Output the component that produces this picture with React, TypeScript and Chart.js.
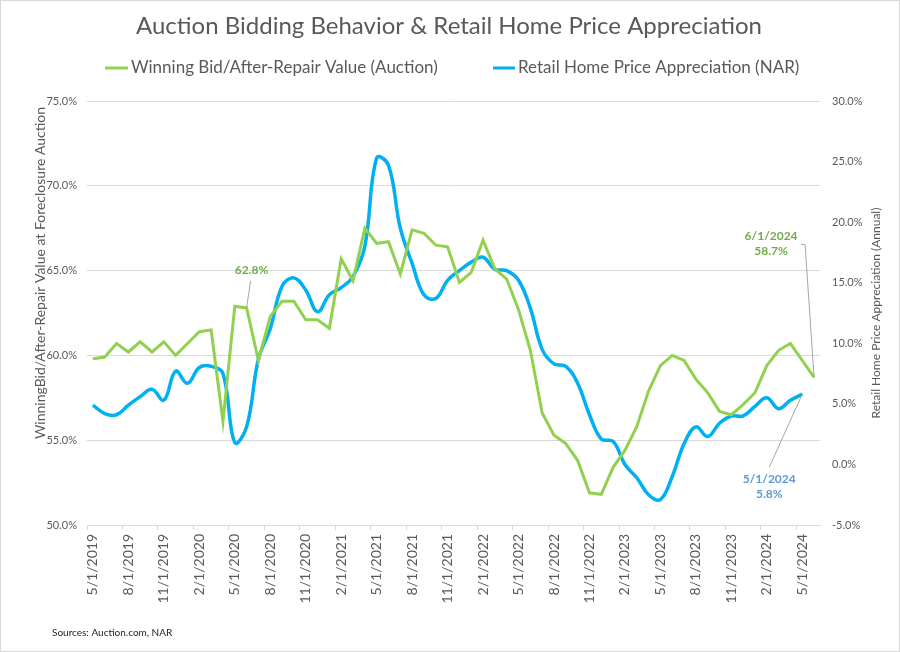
import React, { useEffect, useRef } from 'react';
import { Chart, registerables } from 'chart.js';

Chart.register(...registerables);

const TITLE = 'Auction Bidding Behavior & Retail Home Price Appreciation';
const SERIES_GREEN = 'Winning Bid/After-Repair Value (Auction)';
const SERIES_BLUE = 'Retail Home Price Appreciation (NAR)';
const LEFT_AXIS_TITLE = 'WinningBid/After-Repair Value at Foreclosure Auction';
const RIGHT_AXIS_TITLE = 'Retail Home Price Appreciation (Annual)';
const SOURCE = 'Sources: Auction.com, NAR';

const categories = [
  '5/1/2019', '6/1/2019', '7/1/2019', '8/1/2019', '9/1/2019', '10/1/2019', '11/1/2019', '12/1/2019',
  '1/1/2020', '2/1/2020', '3/1/2020', '4/1/2020', '5/1/2020', '6/1/2020', '7/1/2020', '8/1/2020',
  '9/1/2020', '10/1/2020', '11/1/2020', '12/1/2020', '1/1/2021', '2/1/2021', '3/1/2021', '4/1/2021',
  '5/1/2021', '6/1/2021', '7/1/2021', '8/1/2021', '9/1/2021', '10/1/2021', '11/1/2021', '12/1/2021',
  '1/1/2022', '2/1/2022', '3/1/2022', '4/1/2022', '5/1/2022', '6/1/2022', '7/1/2022', '8/1/2022',
  '9/1/2022', '10/1/2022', '11/1/2022', '12/1/2022', '1/1/2023', '2/1/2023', '3/1/2023', '4/1/2023',
  '5/1/2023', '6/1/2023', '7/1/2023', '8/1/2023', '9/1/2023', '10/1/2023', '11/1/2023', '12/1/2023',
  '1/1/2024', '2/1/2024', '3/1/2024', '4/1/2024', '5/1/2024', '6/1/2024',
];

const winningBidPct = [
  59.8, 59.9, 60.7, 60.2, 60.8, 60.2, 60.8, 60.0, 60.7, 61.4,
  61.5, 56.1, 62.9, 62.8, 59.7, 62.3, 63.2, 63.2, 62.1, 62.1,
  61.6, 65.7, 64.4, 67.5, 66.6, 66.7, 64.8, 67.4, 67.2, 66.5,
  66.4, 64.3, 64.9, 66.8, 65.1, 64.5, 62.7, 60.3, 56.6, 55.3,
  54.8, 53.8, 51.9, 51.8, 53.4, 54.4, 55.8, 57.9, 59.4, 60.0,
  59.7, 58.6, 57.8, 56.7, 56.5, 57.1, 57.8, 59.4, 60.3, 60.7,
  59.7, 58.7,
];

const retailHpaPct = [
  4.9, 4.2, 4.1, 4.9, 5.6, 6.2, 5.3, 7.7, 6.7, 8.0,
  8.1, 7.5, 1.8, 3.1, 8.7, 11.2, 14.7, 15.4, 14.4, 12.6,
  14.0, 14.6, 15.5, 18.0, 25.3, 24.7, 19.5, 16.6, 14.0, 13.7,
  15.2, 16.0, 16.7, 17.1, 16.1, 16.0, 15.2, 12.9, 9.5, 8.3,
  8.1, 6.7, 4.1, 2.1, 1.9, 0.0, -1.1, -2.5, -2.9, -1.0,
  1.7, 3.1, 2.3, 3.4, 4.0, 4.0, 4.8, 5.5, 4.6, 5.3,
  5.8,
];

const leftAxisRange = [50, 75];
const rightAxisRange = [-5, 30];

const GREEN = '#92D050';
const GREEN_TEXT = '#70AD47';
const BLUE = '#00B0F0';
const BLUE_TEXT = '#5B9BD5';
const TEXT = '#595959';
const GRID = '#d9d9d9';
const FONT = 'Lato, "Open Sans", sans-serif';

const overlay = {
  id: 'overlay',
  afterDraw(chart: any) {
    const ctx = chart.ctx as CanvasRenderingContext2D;
    ctx.save();
    // chart border
    ctx.strokeStyle = GRID;
    ctx.lineWidth = 1;
    ctx.strokeRect(0.5, 0.5, chart.width - 1, chart.height - 1);

    // title
    ctx.fillStyle = TEXT;
    ctx.textAlign = 'center';
    ctx.textBaseline = 'middle';
    ctx.font = `24px ${FONT}`;
    ctx.fillText(TITLE, 449, 26);

    // legend
    ctx.font = `17px ${FONT}`;
    ctx.textAlign = 'left';
    ctx.lineWidth = 3;
    ctx.strokeStyle = GREEN;
    ctx.beginPath();
    ctx.moveTo(105, 68);
    ctx.lineTo(128, 68);
    ctx.stroke();
    ctx.fillText(SERIES_GREEN, 131, 68);
    ctx.strokeStyle = BLUE;
    ctx.beginPath();
    ctx.moveTo(493, 68);
    ctx.lineTo(515, 68);
    ctx.stroke();
    ctx.fillText(SERIES_BLUE, 518, 68);

    // axis titles
    ctx.textAlign = 'center';
    ctx.font = `14px ${FONT}`;
    ctx.save();
    ctx.translate(40, 273);
    ctx.rotate(-Math.PI / 2);
    ctx.fillText(LEFT_AXIS_TITLE, 0, 0);
    ctx.restore();
    ctx.font = `12px ${FONT}`;
    ctx.save();
    ctx.translate(876, (chart.chartArea.top + chart.chartArea.bottom) / 2);
    ctx.rotate(-Math.PI / 2);
    ctx.fillText(RIGHT_AXIS_TITLE, 0, 0);
    ctx.restore();

    // source
    ctx.font = `10px ${FONT}`;
    ctx.textAlign = 'left';
    ctx.fillStyle = '#222';
    ctx.fillText(SOURCE, 52, 633);

    // annotations
    const gMeta = chart.getDatasetMeta(0);
    const bMeta = chart.getDatasetMeta(1);
    ctx.lineWidth = 1;
    ctx.strokeStyle = '#a6a6a6';
    ctx.font = `bold 12px ${FONT}`;
    ctx.textAlign = 'center';

    const peakIdx = 13;
    const p1 = gMeta.data[peakIdx];
    ctx.beginPath();
    ctx.moveTo(p1.x + 4, p1.y - 27);
    ctx.lineTo(p1.x, p1.y);
    ctx.stroke();
    ctx.fillStyle = GREEN_TEXT;
    ctx.fillText(winningBidPct[peakIdx].toFixed(1) + '%', p1.x + 5, p1.y - 38);

    const gLast = winningBidPct.length - 1;
    const p2 = gMeta.data[gLast];
    ctx.beginPath();
    ctx.moveTo(p2.x - 13, p2.y - 133);
    ctx.lineTo(p2.x - 9, p2.y - 133);
    ctx.lineTo(p2.x, p2.y);
    ctx.stroke();
    ctx.fillText(categories[gLast], p2.x - 43, p2.y - 141);
    ctx.fillText(winningBidPct[gLast].toFixed(1) + '%', p2.x - 43, p2.y - 126);

    const bLast = retailHpaPct.length - 1;
    const p3 = bMeta.data[bLast];
    ctx.beginPath();
    ctx.moveTo(p3.x - 33, p3.y + 73);
    ctx.lineTo(p3.x, p3.y);
    ctx.stroke();
    ctx.fillStyle = BLUE_TEXT;
    ctx.fillText(categories[bLast], p3.x - 33, p3.y + 85);
    ctx.fillText(retailHpaPct[bLast].toFixed(1) + '%', p3.x - 33, p3.y + 100);

    ctx.restore();
  },
};

export default function App() {
  const ref = useRef<HTMLCanvasElement>(null);

  useEffect(() => {
    document.body.style.margin = '0';
    const canvas = ref.current;
    if (!canvas) return;
    const chart = new Chart(canvas, {
      type: 'line',
      data: {
        labels: categories,
        datasets: [
          {
            label: SERIES_GREEN,
            data: winningBidPct,
            yAxisID: 'y',
            borderColor: GREEN,
            backgroundColor: GREEN,
            borderWidth: 3,
            pointRadius: 0,
            tension: 0,
          },
          {
            label: SERIES_BLUE,
            data: retailHpaPct,
            yAxisID: 'y1',
            borderColor: BLUE,
            backgroundColor: BLUE,
            borderWidth: 3.5,
            pointRadius: 0,
            tension: 0.4,
          },
        ],
      },
      options: {
        responsive: false,
        animation: false,
        layout: { padding: { top: 101, left: 0, right: 0, bottom: 0 } },
        plugins: {
          legend: { display: false },
          title: { display: false },
          tooltip: { enabled: false },
        },
        scales: {
          x: {
            type: 'category',
            offset: true,
            grid: {
              offset: true,
              drawOnChartArea: false,
              drawTicks: true,
              tickLength: 5,
              color: (c: any) => (c.index % 3 === 0 ? GRID : 'rgba(0,0,0,0)'),
            },
            border: { display: true, color: GRID },
            ticks: {
              autoSkip: false,
              maxRotation: 90,
              minRotation: 90,
              padding: 4,
              color: TEXT,
              font: { family: FONT, size: 14 },
              callback: (_v: any, i: number) => (i % 3 === 0 ? categories[i] : ''),
            },
            afterFit: (s: any) => {
              s.height = 127;
            },
          },
          y: {
            position: 'left',
            min: leftAxisRange[0],
            max: leftAxisRange[1],
            grid: { color: GRID, drawTicks: false },
            border: { display: false },
            ticks: {
              stepSize: 5,
              padding: 10,
              color: TEXT,
              font: { family: FONT, size: 11 },
              callback: (v: any) => Number(v).toFixed(1) + '%',
            },
            afterFit: (s: any) => {
              s.width = 87;
            },
          },
          y1: {
            position: 'right',
            min: rightAxisRange[0],
            max: rightAxisRange[1],
            grid: { drawOnChartArea: false, drawTicks: false },
            border: { display: false },
            ticks: {
              stepSize: 5,
              padding: 12,
              color: TEXT,
              font: { family: FONT, size: 11 },
              callback: (v: any) => Number(v).toFixed(1) + '%',
            },
            afterFit: (s: any) => {
              s.width = 80;
            },
          },
        },
      },
      plugins: [overlay],
    });
    return () => chart.destroy();
  }, []);

  return <canvas ref={ref} width={900} height={652} style={{ display: 'block' }} />;
}
